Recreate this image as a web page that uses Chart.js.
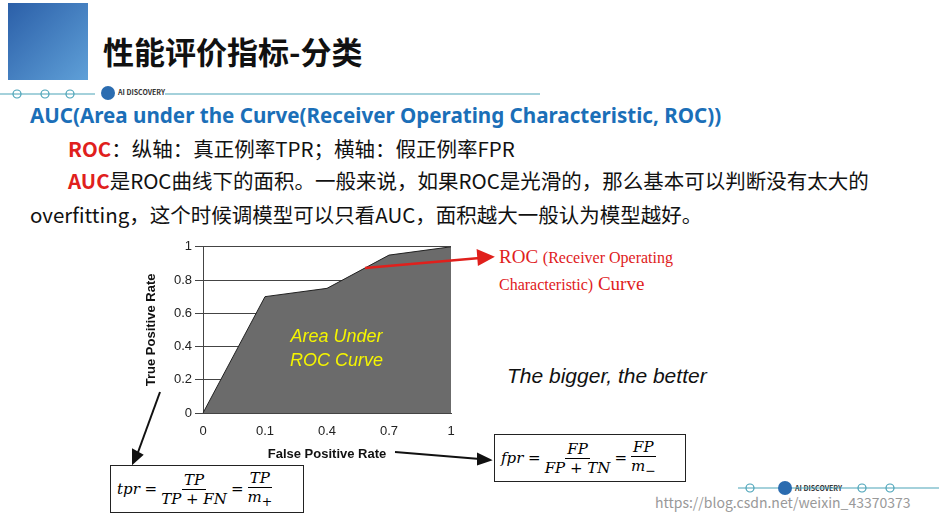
<!DOCTYPE html>
<html><head><meta charset="utf-8">
<script src="https://cdn.jsdelivr.net/npm/chart.js@4"></script>
<style>
body{margin:0;width:939px;height:521px;background:#fff;position:relative;overflow:hidden;font-family:"Noto Sans CJK SC","Noto Sans",sans-serif}
.a{position:absolute;white-space:nowrap}
.box{position:absolute;border:1.5px solid #222;font-family:"DejaVu Serif",serif;font-style:italic;font-size:15px;display:flex;align-items:center;padding:0 6px}
.frac{display:inline-flex;flex-direction:column;align-items:center;margin:0 4px}
.frac span:first-child{border-bottom:1px solid #000;padding:0 2px}
</style></head><body>
<div class="a" style="left:8px;top:3px;width:80px;height:77px;background:linear-gradient(135deg,#2b5fa8,#5fa0d8);"></div>
<div class="a" style="left:103px;top:28px;font-size:31px;font-weight:bold;color:#111">性能评价指标-分类</div>
<div class="a" style="left:118px;top:87px;font-size:7px;font-weight:bold;color:#333">AI DISCOVERY</div>
<div class="a" style="left:795px;top:483px;font-size:7px;font-weight:bold;color:#333">AI DISCOVERY</div>
<div class="a" style="left:30px;top:101px;font-size:20.6px;font-weight:bold;color:#1b6fb8;font-family:'Noto Sans',sans-serif">AUC(Area under the Curve(Receiver Operating Characteristic, ROC))</div>
<div class="a" style="left:68px;top:133px;font-size:20.5px;color:#111"><b style="color:#e0201c">ROC</b>：纵轴：真正例率TPR；横轴：假正例率FPR</div>
<div class="a" style="left:68px;top:165px;font-size:20.5px;color:#111"><b style="color:#e0201c">AUC</b>是ROC曲线下的面积。一般来说，如果ROC是光滑的，那么基本可以判断没有太大的</div>
<div class="a" style="left:30px;top:199px;font-size:20.5px;color:#111">overfitting，这个时候调模型可以只看AUC，面积越大一般认为模型越好。</div>
<div class="a" style="left:499px;top:244px;font-size:19px;color:#e0201c;font-family:'Liberation Serif',serif;line-height:26px">ROC <span style="font-size:16px">(Receiver Operating</span><br><span style="font-size:16px">Characteristic)</span> Curve</div>
<div class="a" style="left:507px;top:364px;font-size:21px;font-style:italic;color:#111;font-family:'Liberation Sans',sans-serif">The bigger, the better</div>
<div class="box" style="left:110px;top:465px;width:180px;height:46px">tpr =<span class="frac"><span>TP</span><span>TP + FN</span></span>=<span class="frac"><span>TP</span><span>m<sub>+</sub></span></span></div>
<div class="box" style="left:494px;top:434px;width:178px;height:46px">fpr =<span class="frac"><span>FP</span><span>FP + TN</span></span>=<span class="frac"><span>FP</span><span>m<sub>−</sub></span></span></div>
<div class="a" style="left:655px;top:492px;font-size:14px;color:#999">https://blog.csdn.net/weixin_43370373</div>
<div class="a" style="left:140px;top:236px;width:320px;height:230px"><canvas id="roc"></canvas></div>
<div class="a" style="left:290px;top:324px;font-size:18px;font-style:italic;color:#f5f500;font-family:'Liberation Sans',sans-serif;line-height:24px;text-align:center">Area Under<br>ROC Curve</div>
<svg class="a" style="left:0;top:0" width="939" height="521">
 <g stroke="#4aa3b8" fill="none" stroke-width="1.2">
  <line x1="0" y1="94" x2="95" y2="94"/><circle cx="17" cy="94" r="4"/><circle cx="45" cy="94" r="4"/><circle cx="70" cy="94" r="4"/>
  <line x1="165" y1="94" x2="540" y2="94"/>
  <line x1="738" y1="488" x2="939" y2="488"/><circle cx="750" cy="488" r="4"/><circle cx="862" cy="488" r="4"/><circle cx="890" cy="488" r="4"/>
 </g>
 <circle cx="108" cy="93" r="7" fill="#2b6cb0"/><circle cx="785" cy="488" r="7" fill="#2b6cb0"/>
 <g stroke="#111" stroke-width="2" fill="#111">
  <line x1="160" y1="392" x2="137" y2="455"/><polygon points="133,463 133,450 142,455"/>
  <line x1="395" y1="452" x2="480" y2="459"/><polygon points="490,460 478,454 478,464"/>
 </g>
 <g stroke="#e0201c" stroke-width="2.5" fill="#e0201c">
  <line x1="365" y1="268" x2="480" y2="258"/><polygon points="492,257 478,251 479,264"/>
 </g>
</svg>
<script>
const fprLabels = ['0', '0.1', '0.4', '0.7', '1'];
const tprValues = [0, 0.7, 0.75, 0.95, 1];
const yTicks = [0, 0.2, 0.4, 0.6, 0.8, 1];

const ctx = document.getElementById('roc').getContext('2d');
new Chart(ctx, {
  type: 'line',
  data: {
    labels: fprLabels,
    datasets: [{
      data: tprValues,
      borderColor: '#222',
      borderWidth: 1,
      backgroundColor: '#6b6b6b',
      fill: 'origin',
      pointRadius: 0,
      tension: 0
    }]
  },
  options: {
    responsive: true,
    maintainAspectRatio: false,
    animation: false,
    layout: { padding: { right: 9, top: 10 } },
    plugins: { legend: { display: false }, tooltip: { enabled: false } },
    scales: {
      x: {
        offset: false,
        grid: { display: false },
        border: { color: '#444' },
        ticks: { color: '#222', font: { family: 'Liberation Sans', size: 13 }, maxRotation: 0 },
        title: { display: true, text: 'False Positive Rate', color: '#111', font: { family: 'Liberation Sans', size: 13, weight: 'bold' } },
        afterFit: s => { s.height = 53; }
      },
      y: {
        min: 0, max: 1,
        afterBuildTicks: s => { s.ticks = yTicks.map(v => ({ value: v })); },
        grid: { color: '#444' },
        border: { color: '#444' },
        ticks: { color: '#222', font: { family: 'Liberation Sans', size: 13 }, callback: v => String(v) },
        title: { display: true, text: 'True Positive Rate', color: '#111', font: { family: 'Liberation Sans', size: 13, weight: 'bold' } },
        afterFit: s => { s.width = 63; }
      }
    }
  }
});
</script>
</body></html>
